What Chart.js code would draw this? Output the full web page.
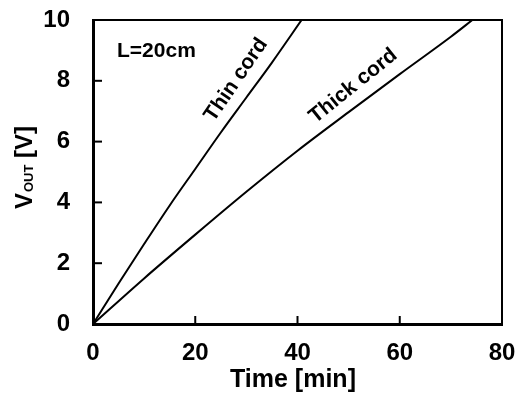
<!DOCTYPE html>
<html>
<head>
<meta charset="utf-8">
<script src="https://cdn.jsdelivr.net/npm/chart.js@4"></script>
<style>
    body { margin: 0; background: #fff; }
    #wrap { width: 523px; height: 403px; }
</style>
</head>
<body>
<div id="wrap"><canvas id="vout-chart" width="523" height="403"></canvas></div>
<script>
// values
const timeThin = [0, 5, 10, 15, 20, 25, 30, 35, 40.8];
const voltThin = [0, 1.33, 2.63, 3.9, 5.1, 6.3, 7.45, 8.6, 10];
const timeThick = [0, 10, 20, 30, 40, 50, 60, 70, 74.2];
const voltThick = [0, 1.5, 2.94, 4.35, 5.7, 6.97, 8.22, 9.45, 10];

const xTicks = [0, 20, 40, 60, 80];
const yTicks = [0, 2, 4, 6, 8, 10];

const FONT = '"Liberation Sans", Arial, sans-serif';

function toPoints(xs, ys) {
    return xs.map((x, i) => ({ x: x, y: ys[i] }));
}

// frame, inner ticks and text labels
const decorPlugin = {
    id: 'decor',
    afterDraw(chart) {
        const ctx = chart.ctx;
        const area = chart.chartArea;
        const xs = chart.scales.x;
        const ys = chart.scales.y;
        ctx.save();
        ctx.strokeStyle = '#000';

        // top and right frame
        ctx.lineWidth = 2;
        ctx.beginPath();
        ctx.moveTo(area.left, area.top);
        ctx.lineTo(area.right, area.top);
        ctx.lineTo(area.right, area.bottom);
        ctx.stroke();

        // ticks pointing inward
        xTicks.slice(1, -1).forEach(v => {
            const px = xs.getPixelForValue(v);
            ctx.beginPath();
            ctx.moveTo(px, area.bottom);
            ctx.lineTo(px, area.bottom - 8);
            ctx.stroke();
        });
        yTicks.slice(1, -1).forEach(v => {
            const py = ys.getPixelForValue(v);
            ctx.beginPath();
            ctx.moveTo(area.left, py);
            ctx.lineTo(area.left + 9, py);
            ctx.stroke();
        });

        ctx.fillStyle = '#000';

        // L=20cm
        ctx.font = 'bold 21px ' + FONT;
        ctx.textAlign = 'left';
        ctx.textBaseline = 'alphabetic';
        ctx.fillText('L=20cm', area.left + 24, area.top + 37);

        // labels along the lines
        function lineLabel(text, xsArr, ysArr, tx, ty) {
            const n = xsArr.length - 1;
            const dx = xs.getPixelForValue(xsArr[n]) - xs.getPixelForValue(xsArr[0]);
            const dy = ys.getPixelForValue(ysArr[n]) - ys.getPixelForValue(ysArr[0]);
            ctx.save();
            ctx.translate(xs.getPixelForValue(tx), ys.getPixelForValue(ty));
            ctx.rotate(Math.atan2(dy, dx));
            ctx.font = 'bold 21px ' + FONT;
            ctx.textAlign = 'center';
            ctx.textBaseline = 'middle';
            ctx.fillText(text, 0, 0);
            ctx.restore();
        }
        lineLabel('Thin cord', timeThin, voltThin, 28.0, 8.03);
        lineLabel('Thick cord', timeThick, voltThick, 50.9, 7.83);

        // x axis title
        ctx.font = 'bold 25px ' + FONT;
        ctx.textAlign = 'center';
        ctx.textBaseline = 'alphabetic';
        ctx.fillText('Time [min]', 293, 387);

        // y axis title with subscript
        ctx.save();
        ctx.translate(32, 209);
        ctx.rotate(-Math.PI / 2);
        ctx.textAlign = 'left';
        ctx.font = 'bold 24px ' + FONT;
        let pos = 0;
        ctx.fillText('V', pos, 0);
        pos += ctx.measureText('V').width;
        ctx.font = 'bold 13px ' + FONT;
        ctx.fillText('OUT', pos + 1, 1);
        pos += ctx.measureText('OUT').width + 1;
        ctx.font = 'bold 24px ' + FONT;
        ctx.fillText(' [V]', pos, 0);
        ctx.restore();

        ctx.restore();
    }
};

function noPadding(scale) {
    scale.paddingTop = 0;
    scale.paddingBottom = 0;
    scale.paddingLeft = 0;
    scale.paddingRight = 0;
}

const ctx = document.getElementById('vout-chart').getContext('2d');
const chart = new Chart(ctx, {
    type: 'line',
    data: {
        datasets: [
            {
                label: 'Thin cord',
                data: toPoints(timeThin, voltThin),
                borderColor: '#000',
                borderWidth: 2,
                pointRadius: 0,
                cubicInterpolationMode: 'monotone',
                fill: false
            },
            {
                label: 'Thick cord',
                data: toPoints(timeThick, voltThick),
                borderColor: '#000',
                borderWidth: 2,
                pointRadius: 0,
                cubicInterpolationMode: 'monotone',
                fill: false
            }
        ]
    },
    options: {
        responsive: false,
        animation: false,
        events: [],
        layout: {
            padding: { top: 20, right: 21, left: 0, bottom: 0 }
        },
        scales: {
            x: {
                type: 'linear',
                min: 0,
                max: 80,
                afterBuildTicks: (scale) => { scale.ticks = xTicks.map(v => ({ value: v })); },
                afterFit: (scale) => { scale.height = 79; noPadding(scale); },
                grid: { drawOnChartArea: false, drawTicks: false },
                border: { display: true, color: '#000', width: 3 },
                ticks: {
                    color: '#000',
                    padding: 15,
                    font: { family: FONT, size: 24, weight: 'bold' }
                }
            },
            y: {
                type: 'linear',
                min: 0,
                max: 10,
                afterBuildTicks: (scale) => { scale.ticks = yTicks.map(v => ({ value: v })); },
                afterFit: (scale) => { scale.width = 93; noPadding(scale); },
                grid: { drawOnChartArea: false, drawTicks: false },
                border: { display: true, color: '#000', width: 3 },
                ticks: {
                    color: '#000',
                    padding: 23,
                    font: { family: FONT, size: 24, weight: 'bold' }
                }
            }
        },
        plugins: {
            legend: { display: false },
            tooltip: { enabled: false }
        }
    },
    plugins: [decorPlugin]
});
</script>
</body>
</html>
